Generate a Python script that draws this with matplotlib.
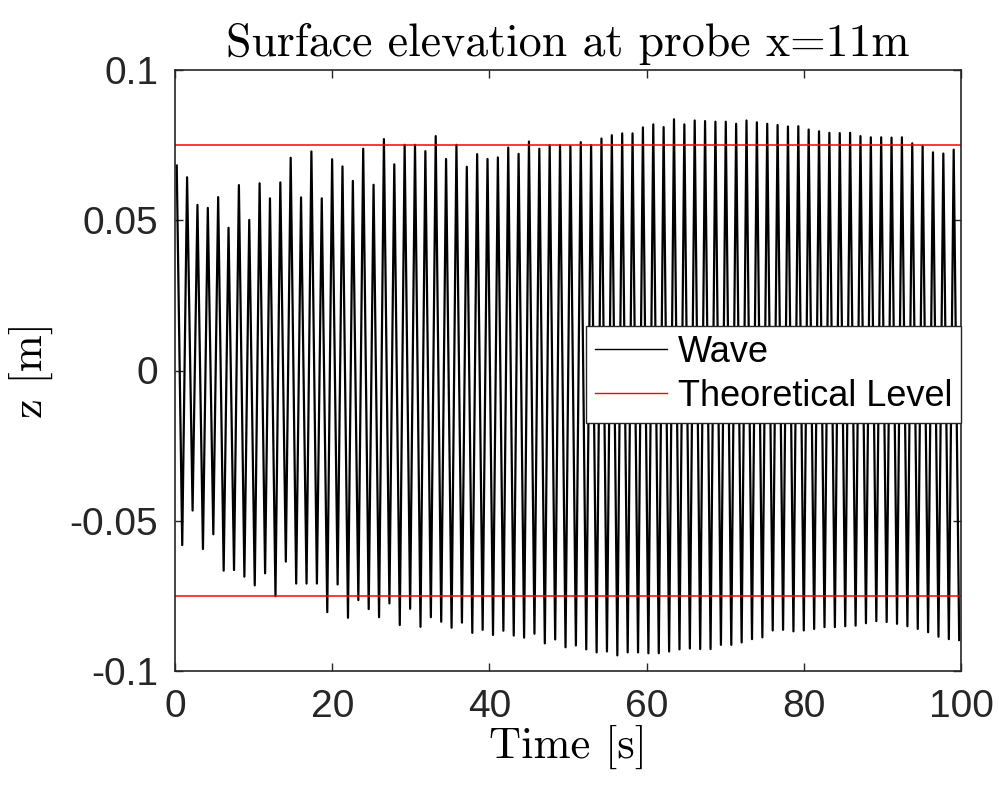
import numpy as np
import matplotlib
matplotlib.use("Agg")
import matplotlib.pyplot as plt

# ---- data ----
crest_values = [
    0.0682, 0.0643, 0.0551, 0.0541, 0.0577, 0.0475, 0.0617, 0.0501, 0.0623, 0.0573,
    0.0626, 0.0708, 0.0576, 0.0729, 0.0573, 0.0703, 0.0679, 0.0631, 0.0738, 0.0618,
    0.0770, 0.0686, 0.0751, 0.0751, 0.0730, 0.0780, 0.0704, 0.0751, 0.0678,
    0.0720, 0.0704, 0.0709, 0.0742, 0.0721, 0.0762, 0.0738, 0.0750, 0.0750, 0.0747,
    0.0760, 0.0750, 0.0772, 0.0783, 0.0789, 0.0789, 0.0809, 0.0819, 0.0810, 0.0836,
    0.0819,
    0.0832, 0.0830, 0.0828, 0.0828, 0.0821, 0.0832, 0.0826, 0.0821, 0.0817, 0.0812,
    0.0813, 0.0802, 0.0796, 0.0791, 0.0790, 0.0791, 0.0780, 0.0776, 0.0776, 0.0775,
    0.0776, 0.0756, 0.0747, 0.0726, 0.0722, 0.0735,
]
trough_values = [
    -0.0581, -0.0466, -0.0594, -0.0545, -0.0666, -0.0664, -0.0686, -0.0715, -0.0675, -0.0751,
    -0.0636, -0.0709, -0.0709, -0.0709, -0.0804, -0.0712, -0.0823, -0.0764, -0.0794, -0.0821,
    -0.0775, -0.0847, -0.0793, -0.0853, -0.0821, -0.0836, -0.0856, -0.0839,
    -0.0873, -0.0863, -0.0880, -0.0866, -0.0882, -0.0889, -0.0876, -0.0908, -0.0895, -0.0921,
    -0.0915, -0.0928, -0.0938, -0.0935, -0.0948, -0.0938, -0.0938, -0.0941, -0.0941, -0.0935,
    -0.0928, -0.0925,
    -0.0927, -0.0927, -0.0913, -0.0913, -0.0905, -0.0894, -0.0888, -0.0865, -0.0863, -0.0868,
    -0.0865, -0.0860, -0.0854, -0.0854, -0.0851, -0.0849, -0.0841, -0.0834, -0.0837, -0.0843,
    -0.0851, -0.0860, -0.0871, -0.0886, -0.0894, -0.0897,
]
first_crest_time = 0.22   # s
wave_period = 1.318       # s
trough_lag = 0.70         # s after each crest
theoretical_level = 0.075

x_ticks = [0, 20, 40, 60, 80, 100]
y_ticks = [-0.1, -0.05, 0, 0.05, 0.1]
y_tick_labels = ["-0.1", "-0.05", "0", "0.05", "0.1"]

# ---- build the polyline through the crests and troughs ----
n = len(crest_values)
crest_t = first_crest_time + wave_period * np.arange(n)
trough_t = crest_t + trough_lag
t = np.empty(2 * n)
z = np.empty(2 * n)
t[0::2] = crest_t
t[1::2] = trough_t
z[0::2] = crest_values
z[1::2] = trough_values

# ---- figure ----
plt.rcParams['font.family'] = ['Liberation Sans', 'DejaVu Sans']
fig = plt.figure(figsize=(9.99, 7.87), dpi=100)
ax = fig.add_axes([175/999, 1 - 671/787, (961-175)/999, (671-70)/787])

axis_col = "#262626"
ax.plot(t, z, color="black", lw=1.6, label="Wave")
ax.plot([0, 100], [theoretical_level, theoretical_level], color="#ff0000", lw=1.1,
        label="Theoretical Level")
ax.plot([0, 100], [-theoretical_level, -theoretical_level], color="#ff0000", lw=1.1)

ax.set_xlim(0, 100)
ax.set_ylim(-0.1, 0.1)
ax.set_xticks(x_ticks)
ax.set_xticklabels([str(v) for v in x_ticks])
ax.set_yticks(y_ticks)
ax.set_yticklabels(y_tick_labels)
ax.tick_params(direction="in", length=6, width=1.0, colors=axis_col,
               labelsize=28, top=True, right=True, pad=13)
ax.tick_params(axis="y", pad=12)
for s in ax.spines.values():
    s.set_color(axis_col)
    s.set_linewidth(1.2)

serif = dict(family="cmr10", color="black")
ax.set_title("Surface elevation at probe x=11m", fontsize=33, pad=10, **serif)
ax.set_xlabel("Time [s]", fontsize=32, labelpad=0, **serif)
ax.set_ylabel("z [m]", fontsize=32, **serif)
ax.yaxis.set_label_coords(-0.155, 0.5)

leg = ax.legend(loc="upper right", bbox_to_anchor=(1.0, 0.574), borderaxespad=0,
                fontsize=26, frameon=True, fancybox=False, framealpha=1,
                edgecolor=axis_col, handlelength=2.0, handletextpad=0.3,
                labelspacing=0.25, borderpad=0.25)
leg.get_frame().set_linewidth(1.0)
for h in leg.get_lines():
    h.set_linewidth(1.0)

fig.savefig("out.png", dpi=100)
